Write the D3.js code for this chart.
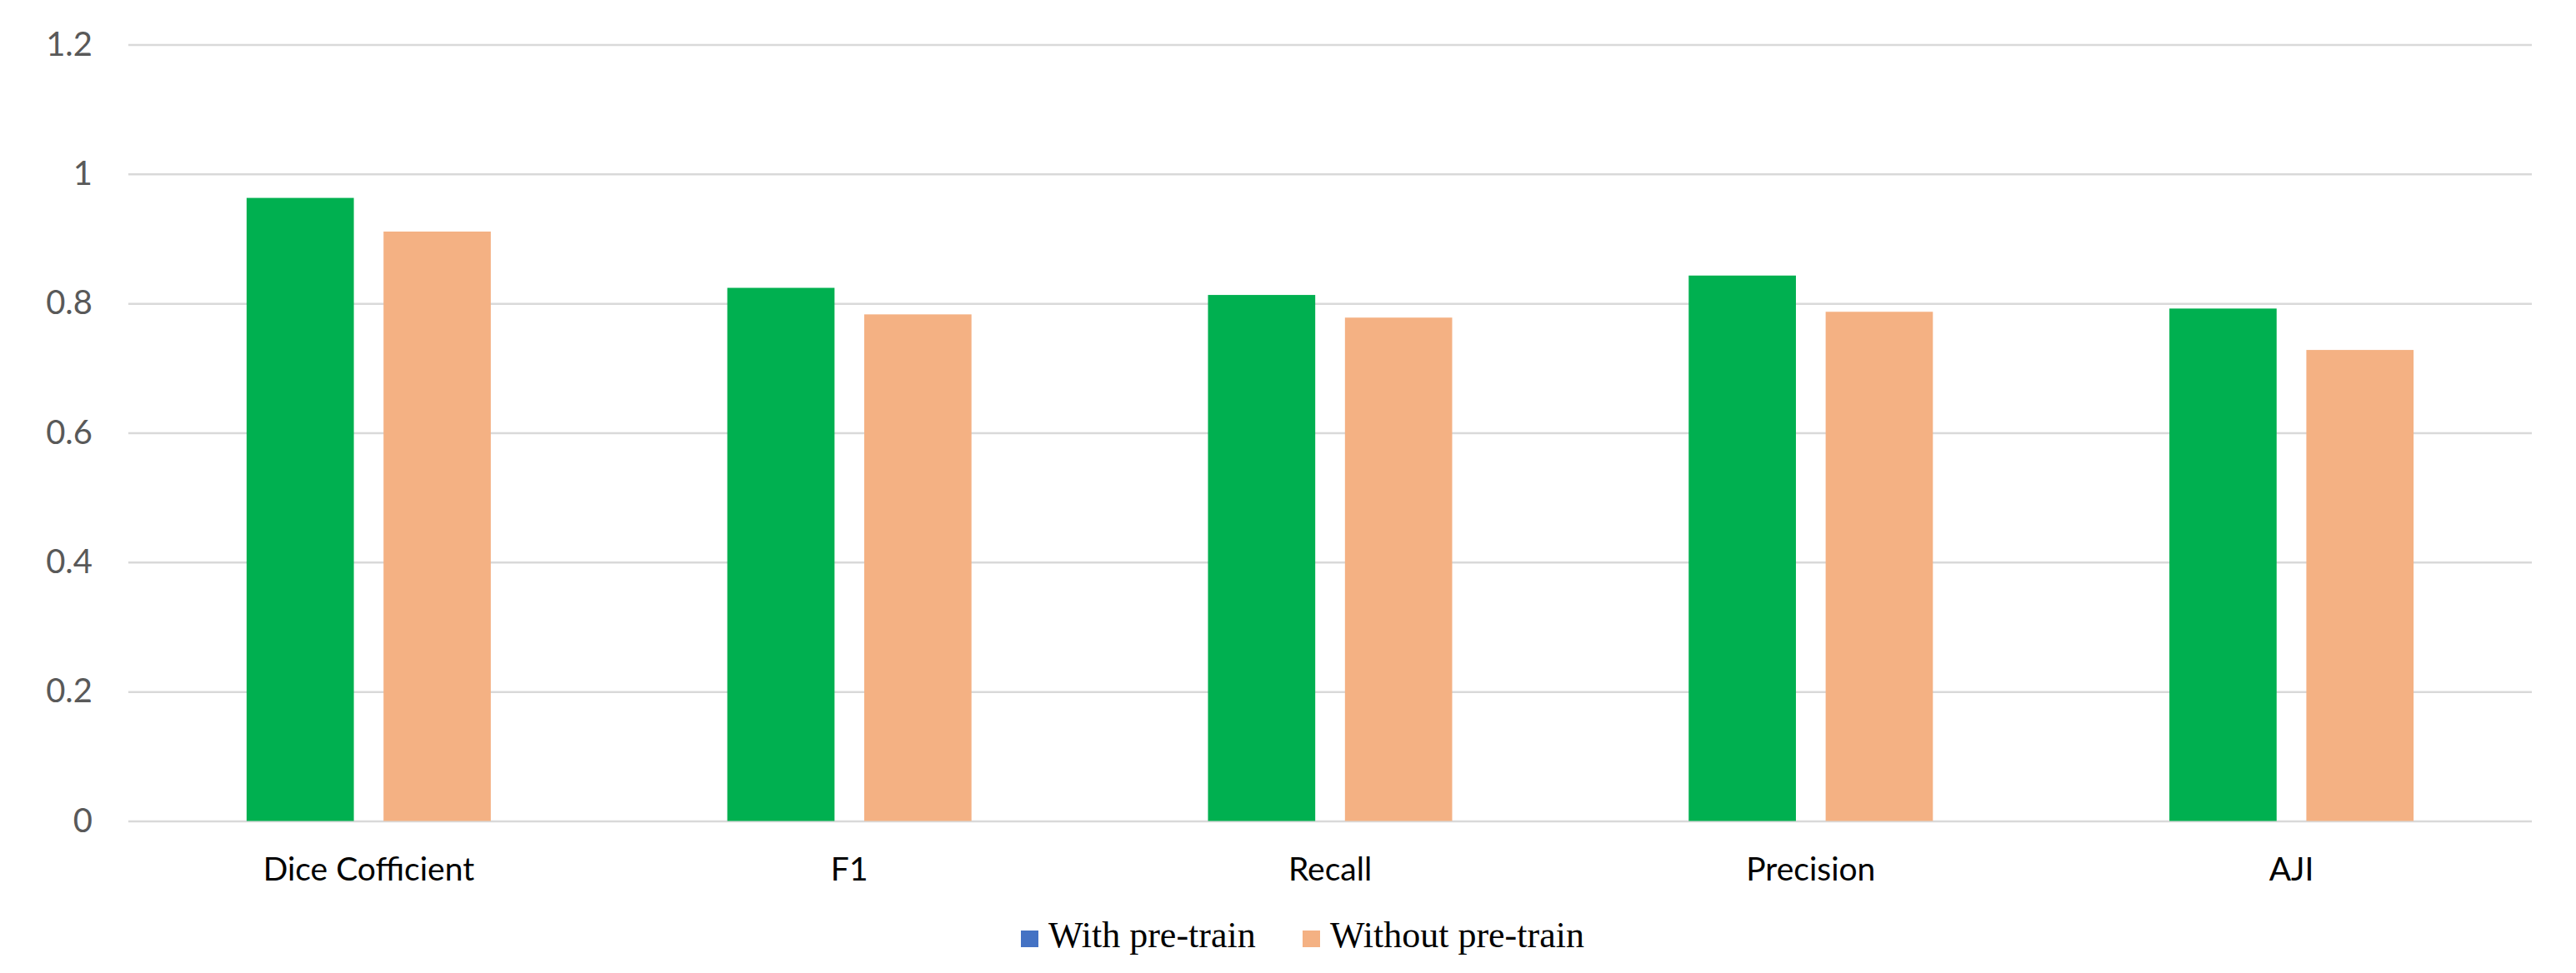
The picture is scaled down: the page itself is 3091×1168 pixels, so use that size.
<!DOCTYPE html>
<html>
<head>
<meta charset="utf-8">
<script src="https://cdn.jsdelivr.net/npm/d3@7"></script>
<style>
  html, body { margin: 0; padding: 0; background: #ffffff; }
  svg { display: block; }
</style>
</head>
<body>
<svg id="chart" width="3091" height="1168"></svg>
<script>
const categories = ["Dice Cofficient", "F1", "Recall", "Precision", "AJI"];
const seriesNames = ["With pre-train", "Without pre-train"];
const withPretrain = [0.963, 0.824, 0.813, 0.843, 0.792];
const withoutPretrain = [0.911, 0.783, 0.778, 0.787, 0.728];
const yTickValues = [0, 0.2, 0.4, 0.6, 0.8, 1, 1.2];
const yTickLabels = ["0", "0.2", "0.4", "0.6", "0.8", "1", "1.2"];
const barColors = ["#00b050", "#f4b183"];
const legendColors = ["#4472c4", "#f4b183"];

const svg = d3.select("#chart");
const W = 3091, H = 1168;
const margin = { left: 154, right: 3091 - 3038, top: 53.5, bottom: 1168 - 985.5 };
const innerW = W - margin.left - margin.right;
const innerH = H - margin.top - margin.bottom;

const g = svg.append("g").attr("transform", `translate(${margin.left},${margin.top})`);

const x0 = d3.scaleBand().domain(categories).range([0, innerW]).paddingInner(0).paddingOuter(0);
const groupW = 293;
const x1 = d3.scaleBand().domain(seriesNames).range([0, groupW]).paddingInner(0.217).paddingOuter(0);
const y = d3.scaleLinear().domain([0, 1.2]).range([innerH, 0]);

// gridlines
const yAxis = d3.axisLeft(y)
  .tickValues(yTickValues)
  .tickSize(-innerW)
  .tickPadding(43)
  .tickFormat((d, i) => yTickLabels[i]);
const ya = g.append("g").call(yAxis);
ya.select(".domain").remove();
ya.selectAll(".tick line").attr("stroke", "#d9d9d9").attr("stroke-width", 2.5);
ya.selectAll(".tick text")
  .attr("fill", "#595959")
  .style("font-family", "Lato, 'Open Sans', sans-serif")
  .style("font-size", "40px");

const data = categories.map((c, i) => ({ cat: c, vals: [withPretrain[i], withoutPretrain[i]] }));

const groups = g.selectAll("g.grp").data(data).enter().append("g")
  .attr("class", "grp")
  .attr("transform", d => `translate(${x0(d.cat) + (x0.bandwidth() - groupW) / 2},0)`);

groups.selectAll("rect").data(d => d.vals.map((v, k) => ({ s: seriesNames[k], v, k })))
  .enter().append("rect")
  .attr("x", d => x1(d.s))
  .attr("width", x1.bandwidth())
  .attr("y", d => y(d.v))
  .attr("height", d => y(0) - y(d.v))
  .attr("fill", d => barColors[d.k]);

// x axis labels
const xAxis = d3.axisBottom(x0).tickSize(0).tickPadding(44);
const xa = g.append("g").attr("transform", `translate(0,${innerH})`).call(xAxis);
xa.select(".domain").remove();
xa.selectAll(".tick text")
  .attr("fill", "#000000")
  .style("font-family", "Lato, 'Open Sans', sans-serif")
  .style("font-size", "39px");

// legend
const legend = svg.append("g").attr("transform", "translate(0,1137)");
const legendItemsX = [1225, 1563];
seriesNames.forEach((name, i) => {
  const li = legend.append("g").attr("transform", `translate(${legendItemsX[i]},0)`);
  li.append("rect").attr("x", 0).attr("y", -20).attr("width", 21).attr("height", 20).attr("fill", legendColors[i]);
  li.append("text").attr("x", 33).attr("y", 0)
    .attr("fill", "#000")
    .style("font-family", "'Liberation Serif', 'Times New Roman', serif")
    .style("font-size", "44px")
    .text(name);
});
</script>
</body>
</html>
